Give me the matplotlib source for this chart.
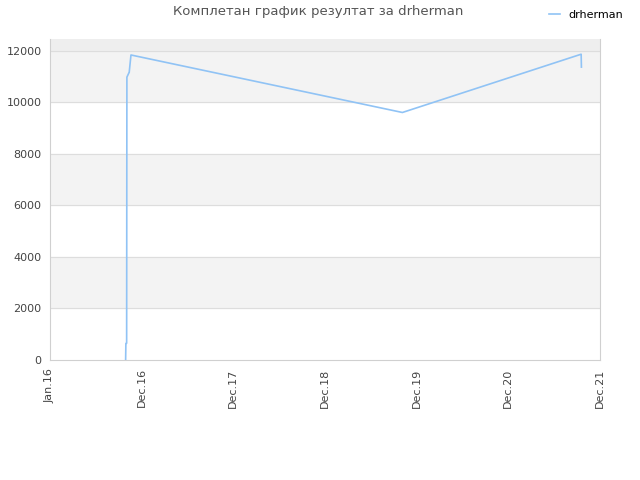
import datetime as dt
import matplotlib
matplotlib.use("Agg")
import matplotlib.pyplot as plt

dates = ["2016-10-24", "2016-10-25", "2016-10-28", "2016-10-29", "2016-11-06",
         "2016-11-07", "2016-11-14", "2019-10-16", "2021-09-17", "2021-09-18"]
scores = [0, 640, 650, 10970, 11140, 11150, 11830, 9600, 11860, 11360]
tick_labels = ["Jan.16", "Dec.16", "Dec.17", "Dec.18", "Dec.19", "Dec.20", "Dec.21"]

x = [dt.datetime.strptime(d, "%Y-%m-%d") for d in dates]
start = dt.datetime(2016, 1, 1)
ticks = [start + dt.timedelta(days=360 * i) for i in range(len(tick_labels))]

fig = plt.figure(figsize=(6.4, 4.8), dpi=100)
ax = fig.add_axes([50 / 640, 1 - 360 / 480, 550 / 640, 321 / 480])

ymax = 12450
for lo in range(0, 12000, 2000):
    if (lo // 2000) % 2 == 1:
        ax.axhspan(lo, lo + 2000, color="#f3f3f3", zorder=0)
ax.axhspan(12000, ymax, color="#eeeeee", zorder=0)
for g in range(2000, 12001, 2000):
    ax.axhline(g, color="#dddddd", lw=0.8, zorder=1)

ax.plot(x, scores, color="#90c3f5", lw=1.2, label="drherman", zorder=3)

ax.set_xlim(ticks[0], ticks[-1])
ax.set_ylim(0, ymax)
ax.set_xticks(ticks)
ax.set_xticklabels(tick_labels, rotation=90)
ax.set_yticks(range(0, 12001, 2000))
ax.tick_params(length=0, labelsize=8, labelcolor="#444444", pad=6)
for s in ax.spines.values():
    s.set_color("#d0d0d0")
ax.spines["top"].set_visible(False)

fig.text(0.497, 1 - 12 / 480, "Комплетан график резултат за drherman", ha="center",
         va="center", fontsize=9.5, color="#555555")
fig.legend(loc="upper right", bbox_to_anchor=(0.99, 1.0), frameon=False, fontsize=8,
           handlelength=1.0, handletextpad=0.8)

fig.savefig("out.png")
